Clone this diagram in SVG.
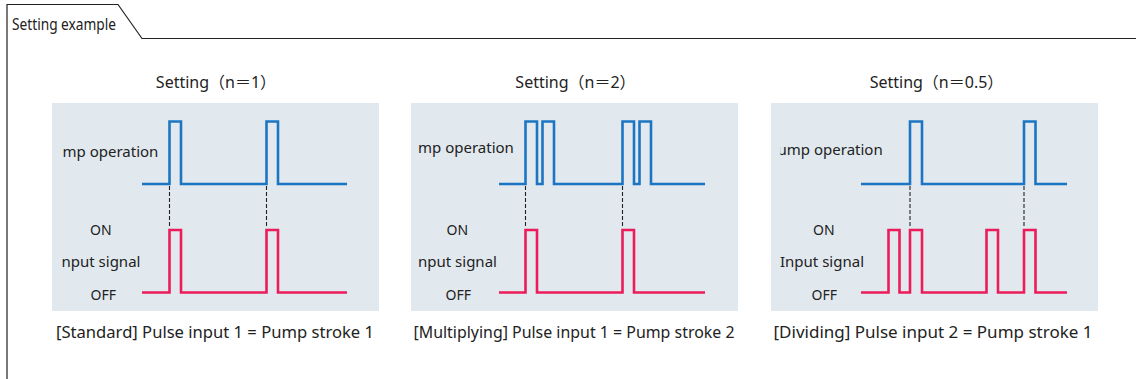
<svg xmlns="http://www.w3.org/2000/svg" width="1136" height="379" viewBox="0 0 1136 379">
<style>
.frame{fill:none;stroke:#222;stroke-width:1.2}
.panel{fill:#e1e9ef}
.blue{fill:none;stroke:#1c75c2;stroke-width:2.6;stroke-linejoin:miter}
.red{fill:none;stroke:#ec1b5a;stroke-width:2.6;stroke-linejoin:miter}
.dash{fill:none;stroke:#222;stroke-width:1.1;stroke-dasharray:4,2}
.title{font-family:"Noto Sans","Noto Sans CJK JP",sans-serif;font-size:16px;fill:#222;text-anchor:middle}
.lbl{font-family:"Noto Sans",sans-serif;font-size:15px;fill:#222}
.sm{font-family:"Noto Sans",sans-serif;font-size:14px;fill:#222}
.cap{font-family:"Noto Sans",sans-serif;font-size:16px;fill:#222}
.hdr{font-family:"Noto Sans",sans-serif;font-size:16px;fill:#222}
</style>
<defs>
<clipPath id="c3"><rect x="780.5" y="130" width="120" height="40"/></clipPath>
</defs>
<g id="frame">
<path class="frame" d="M7,379 V4.5 H118 L142,38.5 H1136"/>
<text class="hdr" x="12" y="30" textLength="104" lengthAdjust="spacingAndGlyphs">Setting example</text>
</g>
<g id="panel1">
<text class="title" x="216" y="88">Setting（n＝1）</text>
<rect class="panel" x="52" y="103" width="327" height="208"/>
<text class="lbl" x="62.5" y="157">mp operation</text>
<text class="sm" x="90" y="235">ON</text>
<text class="lbl" x="61.5" y="267">nput signal</text>
<text class="sm" x="90.5" y="300">OFF</text>
<text class="cap" x="56" y="338" textLength="318" lengthAdjust="spacingAndGlyphs">[Standard] Pulse input 1 = Pump stroke 1</text>
</g>
<g id="panel2">
<text class="title" x="575.5" y="88">Setting（n＝2）</text>
<rect class="panel" x="411" y="103" width="327" height="208"/>
<text class="lbl" x="418" y="153">mp operation</text>
<text class="sm" x="446.5" y="235">ON</text>
<text class="lbl" x="418" y="267">nput signal</text>
<text class="sm" x="445.5" y="300">OFF</text>
<text class="cap" x="413.5" y="338" textLength="321" lengthAdjust="spacingAndGlyphs">[Multiplying] Pulse input 1 = Pump stroke 2</text>
</g>
<g id="panel3">
<text class="title" x="936.5" y="88">Setting（n＝0.5）</text>
<rect class="panel" x="771" y="103" width="327" height="208"/>
<text class="lbl" x="768.5" y="155" clip-path="url(#c3)">Pump operation</text>
<text class="sm" x="813" y="235">ON</text>
<text class="lbl" x="780" y="267">Input signal</text>
<text class="sm" x="811.5" y="300">OFF</text>
<text class="cap" x="773.5" y="338" textLength="319" lengthAdjust="spacingAndGlyphs">[Dividing] Pulse input 2 = Pump stroke 1</text>
</g>
<g id="connectors">
<path class="blue" d="M142,184 H169.5 V121.5 H181 V184 H266.5 V121.5 H278 V184 H347"/>
<path class="red" d="M142,292.5 H169.5 V230 H181 V292.5 H266.5 V230 H278 V292.5 H347"/>
<path class="dash" d="M169.5,186 V228 M266.5,186 V228"/>
<path class="blue" d="M499,184 H525.5 V121.5 H537 V184 H542.5 V121.5 H554 V184 H622.5 V121.5 H634 V184 H639.5 V121.5 H651 V184 H705"/>
<path class="red" d="M499,292.5 H525.5 V230 H537 V292.5 H622.5 V230 H634 V292.5 H705"/>
<path class="dash" d="M525.5,186 V228 M622.5,186 V228"/>
<path class="blue" d="M861,184 H910 V121.5 H922 V184 H1024 V121.5 H1035.5 V184 H1067"/>
<path class="red" d="M861,292.5 H888.5 V230 H899.5 V292.5 H910 V230 H922 V292.5 H986.5 V230 H998 V292.5 H1024 V230 H1035.5 V292.5 H1067"/>
<path class="dash" d="M910,186 V228 M1024,186 V228"/>
</g>
</svg>
